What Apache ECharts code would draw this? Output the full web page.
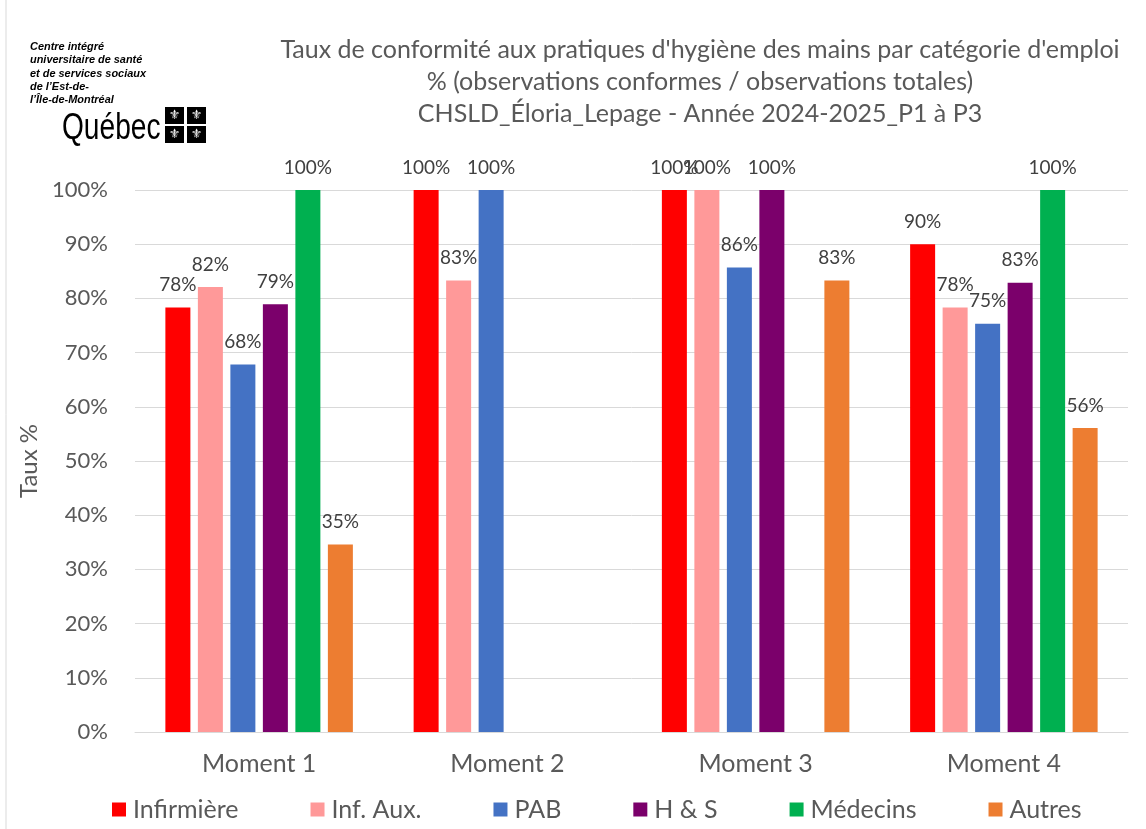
<!DOCTYPE html>
<html>
<head>
<meta charset="utf-8">
<script src="https://cdn.jsdelivr.net/npm/echarts@6/dist/echarts.min.js"></script>
<style>
html,body{margin:0;padding:0;background:#fff;}
#chart{width:1146px;height:829px;}
</style>
</head>
<body>
<div id="chart"></div>
<script>
const categories = ['Moment 1', 'Moment 2', 'Moment 3', 'Moment 4'];
const seriesNames = ['Infirmière', 'Inf. Aux.', 'PAB', 'H & S', 'Médecins', 'Autres'];
const infirmiere = [78.3, 100, 100, 90];
const infAux = [82.1, 83.3, 100, 78.3];
const pab = [67.8, 100, 85.7, 75.3];
const hs = [78.9, null, 100, 82.9];
const medecins = [100, null, null, 100];
const autres = [34.6, null, 83.3, 56.1];
const yTicks = [0, 10, 20, 30, 40, 50, 60, 70, 80, 90, 100];
const titleLines = [
  "Taux de conformité aux pratiques d'hygiène des mains par catégorie d'emploi",
  "% (observations conformes / observations totales)",
  "CHSLD_Éloria_Lepage - Année 2024-2025_P1 à P3"
];
const logoLines = ['Centre intégré', 'universitaire de santé', 'et de services sociaux', 'de l\u2019Est-de-', 'l\u2019Île-de-Montréal'];

const colors = ['#FF0000', '#FF9999', '#4472C4', '#7B006B', '#00B050', '#ED7D31'];
const allData = [infirmiere, infAux, pab, hs, medecins, autres];
const FONT = 'Lato, "Noto Sans", sans-serif';

const chart = echarts.init(document.getElementById('chart'));

const graphics = [];
titleLines.forEach((t, i) => {
  graphics.push({
    type: 'text', x: 700, y: 50 + i * 32,
    style: { text: t, fill: '#595959', font: '25px ' + FONT, align: 'center', verticalAlign: 'middle' }
  });
});
logoLines.forEach((t, i) => {
  graphics.push({
    type: 'text', x: 30, y: 47 + i * 13.3, scaleX: 0.95,
    style: { text: t, fill: '#000', font: 'italic bold 11.5px "Liberation Sans", Arial, sans-serif', verticalAlign: 'middle' }
  });
});
graphics.push({
  type: 'text', x: 62, y: 129, scaleX: 0.76,
  style: { text: 'Québec', fill: '#000', font: '37px "Liberation Sans", Arial, sans-serif', verticalAlign: 'middle' }
});
[[165, 107], [187, 107], [165, 126], [187, 126]].forEach(p => {
  graphics.push({ type: 'rect', shape: { x: p[0], y: p[1], width: 19, height: 17 }, style: { fill: '#000' } });
  graphics.push({
    type: 'text', x: p[0] + 9.5, y: p[1] + 8.5,
    style: { text: '\u269C', fill: '#fff', font: '13px "DejaVu Sans", sans-serif', align: 'center', verticalAlign: 'middle' }
  });
});
graphics.push({ type: 'line', shape: { x1: 6, y1: 0, x2: 6, y2: 829 }, style: { stroke: '#d9d9d9', lineWidth: 1 } });

chart.setOption({
  animation: false,
  color: colors,
  textStyle: { fontFamily: FONT },
  graphic: graphics,
  grid: { left: 135, right: 18, top: 190, bottom: 97 },
  legend: {
    data: seriesNames,
    left: 107, top: 792,
    itemWidth: 14, itemHeight: 14, itemGap: 72,
    icon: 'rect',
    textStyle: { fontSize: 25, color: '#595959', fontFamily: FONT, padding: [0, 0, 0, 2] }
  },
  xAxis: {
    type: 'category', data: categories,
    axisLine: { lineStyle: { color: '#d9d9d9' } },
    axisTick: { show: false },
    axisLabel: { fontSize: 25, color: '#595959', margin: 19 }
  },
  yAxis: {
    type: 'value', min: 0, max: 100, interval: 10,
    name: 'Taux %', nameLocation: 'middle', nameGap: 91, nameRotate: 90,
    nameTextStyle: { fontSize: 24, color: '#595959' },
    axisLabel: {
      fontSize: 22, color: '#595959', margin: 27,
      formatter: v => (yTicks.indexOf(v) >= 0 ? v + '%' : '')
    },
    splitLine: { lineStyle: { color: '#d9d9d9', width: 1 } },
    axisLine: { show: false }, axisTick: { show: false }
  },
  series: seriesNames.map((n, i) => ({
    name: n, type: 'bar', data: allData[i],
    barWidth: 25, barGap: '30%',
    label: {
      show: true, position: 'top', distance: 13,
      fontSize: 19, color: '#404040',
      formatter: p => (p.value == null ? '' : Math.round(p.value) + '%')
    }
  }))
});
</script>
</body>
</html>
